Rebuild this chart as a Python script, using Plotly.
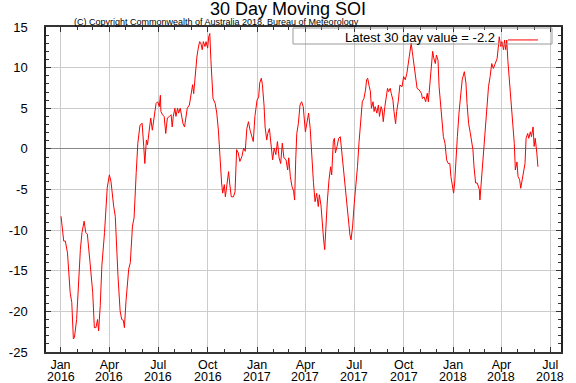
import pandas as pd
import plotly.graph_objects as go

# Day offsets from 2016-01-01 and 30-day moving SOI values
days = [1, 6, 9, 13, 18, 21, 24, 26, 30, 34, 37, 40, 44, 47, 50, 55, 60, 63, 66, 69, 71, 74, 77, 82, 84, 87, 91, 94, 99, 102,
        107, 111, 114, 117, 119, 122, 127, 130, 134, 137, 141, 144, 148, 152, 155, 157, 160, 162, 166, 168, 171, 174, 178, 181,
        184, 186, 187, 190, 193, 196, 199, 203, 206, 208, 210, 213, 215, 218, 220, 223, 225, 228, 231, 233, 236, 240, 243, 246,
        248, 251, 254, 256, 259, 261, 264, 266, 269, 271, 274, 276, 278, 280, 284, 288, 291, 294, 297, 300, 302, 305, 307, 310,
        313, 315, 318, 322, 325, 328, 331, 334, 338, 341, 344, 347, 350, 353, 356, 359, 362, 366, 369, 371, 374, 376, 379, 381,
        384, 386, 389, 392, 395, 398, 401, 404, 407, 410, 413, 416, 420, 423, 425, 428, 431, 434, 436, 438, 440, 443, 446, 449,
        452, 456, 459, 462, 465, 468, 471, 474, 477, 480, 482, 485, 487, 490, 492, 494, 497, 500, 503, 505, 508, 510, 512, 515,
        518, 521, 524, 527, 530, 533, 536, 539, 541, 544, 547, 550, 553, 556, 559, 562, 565, 568, 570, 572, 575, 577, 579, 582,
        584, 586, 589, 592, 594, 597, 599, 601, 604, 606, 609, 611, 614, 616, 619, 621, 624, 626, 629, 632, 636, 639, 642, 645,
        648, 651, 653, 655, 658, 660, 664, 668, 672, 674, 677, 680, 683, 685, 688, 690, 693, 695, 698, 700, 703, 705, 708, 710,
        713, 716, 719, 722, 725, 727, 730, 732, 734, 736, 739, 742, 745, 748, 752, 755, 757, 760, 763, 768, 770, 773, 776, 780,
        781, 785, 788, 791, 794, 797, 800, 803, 806, 809, 813, 816, 817, 820, 822, 825, 827, 829, 831, 833, 836, 839, 842, 845,
        847, 850, 852, 855, 857, 860, 862, 865, 867, 870, 872, 875, 877, 880, 882, 884, 887, 889]

soi = [-8.3, -11.35, -11.35, -12.8, -17.7, -18.9, -23.4, -23.2, -21.0, -15.2, -12.4, -10.3, -8.9, -10.3, -10.5, -14.0, -17.7,
       -22.0, -22.0, -21.0, -22.4, -19.3, -14.4, -10.3, -8.3, -4.8, -3.2, -4.0, -7.05, -8.3,
       -15.6, -19.95, -21.0, -21.1, -22.0, -18.7, -14.8, -14.0, -9.5, -8.5, -2.9, 0.7, 2.9, 3.15, 0.3, -1.8, 1.1, 0.5, 2.7, 3.8,
       2.3, 3.6, 5.6, 5.8,
       5.2, 6.6, 4.6, 4.2, 4.0, 1.9, 3.8, 4.0, 4.2, 2.7, 4.0, 5.0, 4.0, 5.0, 4.4, 5.0, 4.4, 3.15, 2.7, 3.8, 5.0, 5.4, 7.0, 7.9,
       6.8, 9.3, 11.3, 12.2, 13.2, 13.1, 12.2, 13.2, 12.6, 13.2, 12.4, 13.8, 14.2, 11.0, 6.2, 5.6, 4.4, 2.3, -1.35, -4.2, -5.45,
       -4.4, -5.9, -4.6,
       -2.8, -4.2, -5.9, -5.9, -5.3, -0.1, -0.5, -1.55, -0.9, 0.1, -0.3, 2.5, 3.35, 2.3, 1.5, 0.9, 4.0, 6.0, 6.4, 8.1, 8.7, 7.9,
       5.4, 2.7,
       1.1, 1.9, 2.5, 0.9, -1.35, 0.1, -0.7, 0.9, -1.1, -1.8, 0.7, -1.1, -1.35, -2.6, -1.1, -3.4, -4.6, -5.2, -6.3, -1.35, 1.9,
       3.15, 5.4, 5.8,
       5.2, 2.1, 3.1, 4.4, 2.5, -1.5, -4.1, -6.5, -5.45, -7.1, -5.65, -6.9, -9.1, -11.2, -12.4, -9.1, -6.3, -3.8, -2.2, -3.2,
       0.9, 1.3, -0.5, 0.3,
       1.3, 1.5, -0.5, -2.8, -4.2, -6.3, -7.9, -10.6, -11.2, -9.5, -6.7, -4.6, -2.2, 0.9, 3.1, 5.8, 6.2, 7.25, 8.5, 8.7, 7.65,
       7.1, 5.0, 5.8,
       4.6, 5.2, 4.4, 5.4, 4.0, 5.2, 4.8, 3.35, 5.2, 6.4, 7.45, 7.05, 7.45, 6.8, 6.0, 4.6, 3.1, 4.6, 5.85, 7.85, 7.65, 8.9, 8.5,
       9.3,
       10.9, 12.6, 13.0, 12.0, 10.5, 8.9, 7.45, 7.25, 6.85, 6.2, 6.4, 5.8, 6.85, 5.8, 8.5, 10.5, 12.0, 11.2, 10.5, 11.55, 10.9,
       7.65, 5.2, 4.0,
       1.5, 0.7, -1.35, -1.8, -1.8, -3.4, -4.6, -5.45, -4.2, -1.35, 1.5, 4.4, 6.85, 8.5, 9.5, 8.1, 5.6, 3.1, 2.0, -0.1, -2.2,
       -4.2, -4.2, -5.0,
       -6.3, -2.5, -0.1, 3.1, 4.8, 7.65, 8.9, 10.5, 9.9, 10.5, 11.1, 13.0, 13.8, 12.6, 13.2, 12.2, 13.4, 12.2, 13.4, 10.9, 8.1,
       5.4, 3.55, 0.7,
       -2.6, -1.6, -3.4, -3.8, -4.85, -3.8, -3.0, -1.8, 1.3, 1.9, 1.3, 2.1, 1.5, 2.7, 0.3, 1.3, -0.5, -2.2]

x_tick_dates = ["2016-01-01", "2016-04-01", "2016-07-01", "2016-10-01", "2017-01-01", "2017-04-01",
                "2017-07-01", "2017-10-01", "2018-01-01", "2018-04-01", "2018-07-01"]
x_tick_months = ["Jan", "Apr", "Jul", "Oct", "Jan", "Apr", "Jul", "Oct", "Jan", "Apr", "Jul"]
x_tick_years = ["2016", "2016", "2016", "2016", "2017", "2017", "2017", "2017", "2018", "2018", "2018"]
y_tick_vals = [15, 10, 5, 0, -5, -10, -15, -20, -25]
y_tick_text = ["15", "10", "5", "0", "-5", "-10", "-15", "-20", "-25"]

latest_label = "Latest 30 day value = -2.2"
title_text = "30 Day Moving SOI"
copyright_text = "(C) Copyright Commonwealth of Australia 2018, Bureau of Meteorology"

dates = pd.Timestamp("2016-01-01") + pd.to_timedelta(days, unit="D")

FONT = "Liberation Sans, Arial, Helvetica, sans-serif"
W, H = 576, 383
ML, MR, MT, MB = 46, 15, 27, 31
PW, PH = W - ML - MR, H - MT - MB
X_RANGE = ["2015-12-05", "2018-07-21"]
XFS = 12.5


def px_x(px):
    return (px - ML) / PW


def px_y(py):
    return (H - MB - py) / PH


fig = go.Figure()
fig.add_trace(go.Scatter(x=dates, y=soi, mode="lines", name="",
                         line=dict(color="#ff0000", width=1), showlegend=True))

annotations = [dict(text=copyright_text, xref="paper", yref="paper",
                    x=px_x(72), y=px_y(22), xanchor="left", yanchor="middle",
                    showarrow=False, font=dict(size=9, family=FONT, color="black"))]
# second line of the date tick labels (years), placed at the tick dates
for d, yr in zip(x_tick_dates, x_tick_years):
    annotations.append(dict(text=yr, xref="x", yref="paper", x=d, y=0,
                            xanchor="center", yanchor="top", yshift=-17, borderpad=0,
                            showarrow=False, font=dict(size=XFS, family=FONT, color="black")))

fig.update_layout(
    width=W, height=H,
    margin=dict(l=ML, r=MR, t=MT, b=MB, autoexpand=False),
    paper_bgcolor="white", plot_bgcolor="white",
    font=dict(family=FONT, color="black", size=13),
    title=dict(text=title_text, x=0.5, xanchor="center", xref="container",
               yref="container", y=1 - 2 / H, yanchor="top",
               font=dict(size=18, family=FONT, color="black")),
    showlegend=True,
    legend=dict(x=px_x(548), xanchor="right", y=px_y(40), yanchor="middle",
                bgcolor="rgba(0,0,0,0)", borderwidth=0,
                title=dict(text=latest_label, side="left",
                           font=dict(size=13, family=FONT, color="black")),
                font=dict(size=13, family=FONT), itemwidth=30,
                tracegroupgap=0),
    shapes=[dict(type="rect", xref="paper", yref="paper",
                 x0=px_x(293), x1=px_x(552), y0=px_y(44), y1=px_y(28),
                 line=dict(color="#999999", width=1), fillcolor="rgba(0,0,0,0)", layer="above")],
    annotations=annotations,
)

fig.update_xaxes(
    type="date", range=X_RANGE, automargin=False,
    tickvals=x_tick_dates, ticktext=x_tick_months,
    showgrid=True, gridcolor="#cccccc", gridwidth=1,
    ticks="inside", ticklen=5, tickcolor="#333333",
    showline=True, linecolor="#333333", linewidth=1.5, mirror="allticks",
    minor=dict(ticks="inside", ticklen=3, dtick="M1", tick0="2016-01-01",
               tickcolor="#333333", showgrid=False),
    tickfont=dict(size=XFS, family=FONT, color="black"),
    ticklabelstandoff=0,
    zeroline=False,
)
fig.update_yaxes(
    range=[-25, 15], tickvals=y_tick_vals, ticktext=y_tick_text, automargin=False,
    showgrid=True, gridcolor="#cccccc", gridwidth=1,
    ticks="inside", ticklen=5, tickcolor="#333333",
    showline=True, linecolor="#222222", linewidth=1.5, mirror="allticks",
    minor=dict(ticks="inside", ticklen=3, dtick=1, tickcolor="#333333", showgrid=False),
    tickfont=dict(size=13, family=FONT, color="black"),
    ticklabelstandoff=14,
    zeroline=True, zerolinecolor="#888888", zerolinewidth=1,
)

fig.write_html("out.html", config={"displayModeBar": False},
               post_script="document.body.style.margin='0';document.body.style.overflow='hidden';")
